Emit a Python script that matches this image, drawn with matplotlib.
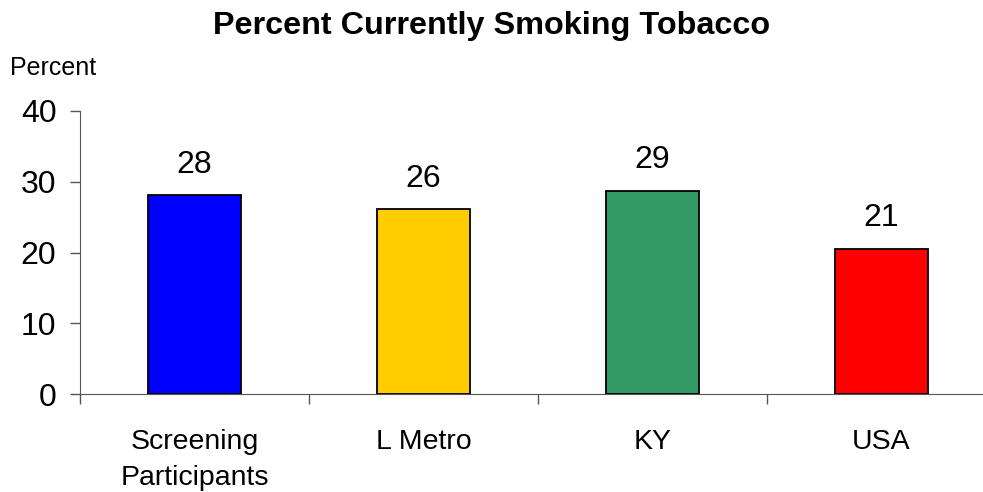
import matplotlib
matplotlib.use("Agg")
import matplotlib.pyplot as plt
import numpy as np

plt.rcParams['font.family'] = ['Liberation Sans', 'DejaVu Sans']

categories = ['Screening\nParticipants', 'L Metro', 'KY', 'USA']
values = [28.1, 26.1, 28.7, 20.5]
labels = ['28', '26', '29', '21']
colors = ['#0000FF', '#FFCC00', '#339966', '#FF0000']

fig = plt.figure(figsize=(9.83, 4.92), dpi=100)
# axes runs off the right edge like the original
ax = fig.add_axes([80 / 983, 1 - 394 / 492, 916 / 983, 283 / 492])

x = np.arange(len(categories))
bars = ax.bar(x, values, width=0.405, color=colors, edgecolor='black', linewidth=1.3, zorder=3)
for xi, v, lab in zip(x, values, labels):
    ax.text(xi, v + 2.2, lab, ha='center', va='bottom', fontsize=23)

ax.set_xlim(-0.5, 3.5)
ax.set_ylim(0, 40)
ax.set_yticks([0, 10, 20, 30, 40])
ax.tick_params(axis='y', labelsize=23, length=7, direction='out', width=1, color='#555555', pad=10)

# category ticks sit between the groups
ax.set_xticks(x)
ax.set_xticklabels(categories, fontsize=20.5, linespacing=1.5)
ax.tick_params(axis='x', length=0, pad=25)
ax.set_xticks([-0.5, 0.5, 1.5, 2.5, 3.5], minor=True)
ax.tick_params(axis='x', which='minor', length=7, width=1, color='#555555')

for s in ['top', 'right']:
    ax.spines[s].set_visible(False)
ax.spines['left'].set_color('#555555')
ax.spines['bottom'].set_color('#555555')
ax.spines['left'].set_bounds(0, 40)

fig.text(0.5, 1 - 26 / 492, 'Percent Currently Smoking Tobacco', ha='center', va='center',
         fontsize=23.3, fontweight='bold')
fig.text(10 / 983, 1 - 68 / 492, 'Percent', ha='left', va='center', fontsize=18)

fig.savefig('out.png', dpi=100)
